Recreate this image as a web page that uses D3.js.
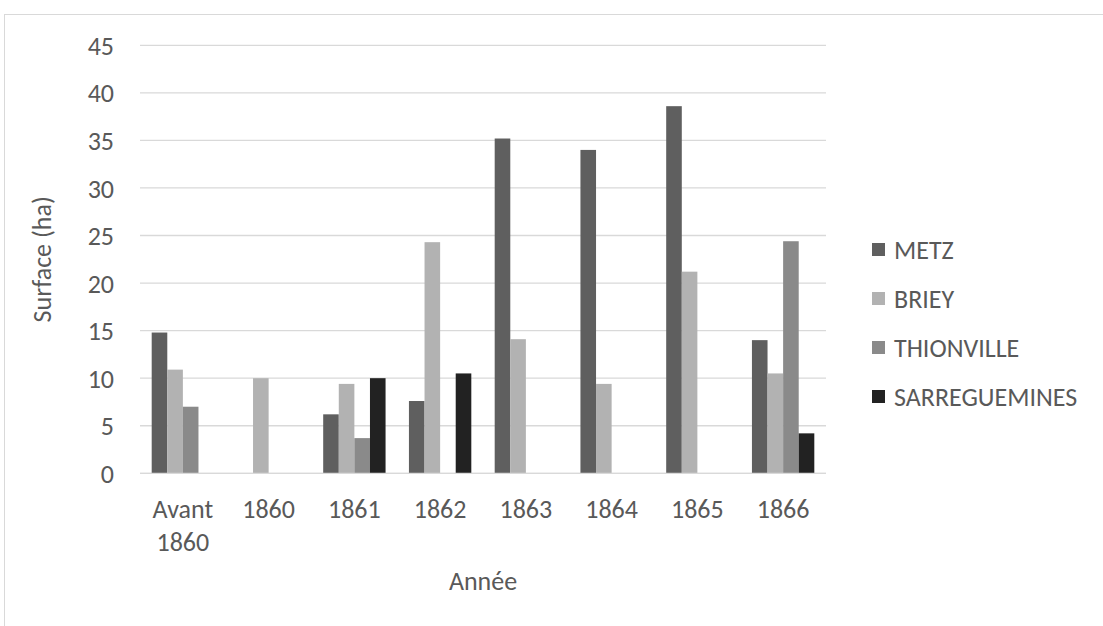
<!DOCTYPE html>
<html>
<head>
<meta charset="utf-8">
<script src="https://cdn.jsdelivr.net/npm/d3@7"></script>
<style>
  html, body { margin: 0; padding: 0; background: #fff; }
  svg { display: block; }
  text { font-family: Carlito, Calibri, Lato, "Open Sans", sans-serif; fill: #595959; }
</style>
</head>
<body>
<svg id="chart" width="1103" height="626"></svg>
<script>
const categories = [["Avant", "1860"], ["1860"], ["1861"], ["1862"], ["1863"], ["1864"], ["1865"], ["1866"]];
const seriesNames = ["METZ", "BRIEY", "THIONVILLE", "SARREGUEMINES"];
const metz = [14.8, 0, 6.2, 7.6, 35.2, 34.0, 38.6, 14.0];
const briey = [10.9, 10.0, 9.4, 24.3, 14.1, 9.4, 21.2, 10.5];
const thionville = [7.0, 0, 3.7, 0, 0, 0, 0, 24.4];
const sarreguemines = [0, 0, 10.0, 10.5, 0, 0, 0, 4.2];
const yTicks = [0, 5, 10, 15, 20, 25, 30, 35, 40, 45];
const colors = ["#5f5f5f", "#b2b2b2", "#8a8a8a", "#222222"];
const seriesValues = [metz, briey, thionville, sarreguemines];

const FS = "26px";
const svg = d3.select("#chart");
const W = 1103, H = 626;
const plot = { left: 140, right: 826, top: 45.3, bottom: 473.3 };

// chart border
svg.append("rect")
  .attr("x", 4.5).attr("y", 14.5)
  .attr("width", W + 10).attr("height", H + 10)
  .attr("fill", "none").attr("stroke", "#d9d9d9").attr("stroke-width", 1);

const catIdx = d3.range(categories.length);
const x0 = d3.scaleBand().domain(catIdx).range([plot.left, plot.right]).paddingInner(0).paddingOuter(0);
const groupPad = 1.5 / 5.5;
const x1 = d3.scaleBand().domain(d3.range(seriesNames.length))
  .range([x0.bandwidth() * groupPad / 2, x0.bandwidth() * (1 - groupPad / 2)]).padding(0);
const y = d3.scaleLinear().domain([0, 45]).range([plot.bottom, plot.top]);

// gridlines
svg.append("g").selectAll("line").data(yTicks).join("line")
  .attr("x1", plot.left).attr("x2", plot.right)
  .attr("y1", d => y(d)).attr("y2", d => y(d))
  .attr("stroke", "#d9d9d9").attr("stroke-width", 1.3);

// y axis labels
const yAxis = d3.axisLeft(y).tickValues(yTicks).tickSize(0).tickPadding(0);
const gy = svg.append("g").attr("transform", `translate(114,0)`).call(yAxis);
gy.select(".domain").remove();
gy.attr("font-size", null).attr("font-family", null);
gy.selectAll("text").style("font-size", FS).attr("fill", "#595959").attr("dy", "0.35em");

// bars
const groups = svg.append("g").selectAll("g").data(catIdx).join("g")
  .attr("transform", i => `translate(${x0(i)},0)`);
groups.selectAll("rect")
  .data(i => seriesValues.map((vals, s) => ({ s, v: vals[i] })).filter(d => d.v > 0))
  .join("rect")
  .attr("x", d => x1(d.s))
  .attr("width", x1.bandwidth())
  .attr("y", d => y(d.v))
  .attr("height", d => y(0) - y(d.v))
  .attr("fill", d => colors[d.s]);

// zero line on top
svg.append("line")
  .attr("x1", plot.left).attr("x2", plot.right)
  .attr("y1", y(0)).attr("y2", y(0))
  .attr("stroke", "#d9d9d9").attr("stroke-width", 1.3);

// x axis labels
const xl = svg.append("g").selectAll("text").data(catIdx).join("text")
  .attr("x", i => x0(i) + x0.bandwidth() / 2)
  .attr("y", 517.5)
  .attr("text-anchor", "middle")
  .style("font-size", FS);
xl.selectAll("tspan").data(i => categories[i]).join("tspan")
  .attr("x", function() { return d3.select(this.parentNode).attr("x"); })
  .attr("dy", (d, k) => k === 0 ? 0 : 33.5)
  .text(d => d);

// axis titles
svg.append("text").attr("x", (plot.left + plot.right) / 2).attr("y", 590)
  .attr("text-anchor", "middle").style("font-size", FS).text("Année");
svg.append("text").attr("transform", `translate(51,${(plot.top + plot.bottom) / 2}) rotate(-90)`)
  .attr("text-anchor", "middle").style("font-size", FS).text("Surface (ha)");

// legend
const legend = svg.append("g").selectAll("g").data(seriesNames).join("g")
  .attr("transform", (d, i) => `translate(872,${250 + i * 49})`);
legend.append("rect").attr("x", 0).attr("y", -7).attr("width", 13).attr("height", 13)
  .attr("fill", (d, i) => colors[i]);
legend.append("text").attr("x", 22).attr("y", 0).attr("dy", "0.36em").style("font-size", FS).text(d => d);
</script>
</body>
</html>
